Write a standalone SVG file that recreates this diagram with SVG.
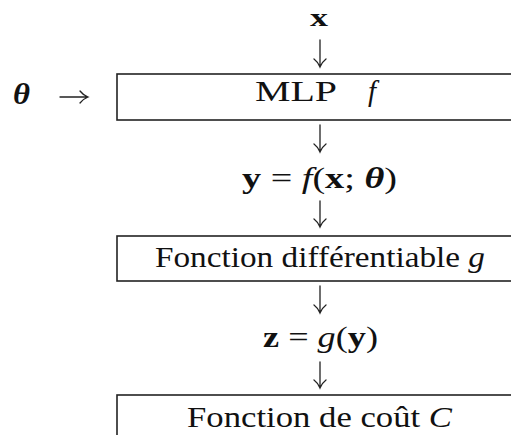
<svg xmlns="http://www.w3.org/2000/svg" width="511" height="435" viewBox="0 0 511 435">
<style>
text{font-family:"Liberation Serif","Times New Roman",serif;font-size:29px;fill:#111}
.m{font-size:30px}
.b{font-weight:bold}
.i{font-style:italic}
.box{fill:#fff;stroke:#222;stroke-width:1.6}
.c{fill:none;stroke:#222;stroke-width:1.3;stroke-linecap:round}
</style>
<rect width="511" height="435" fill="#fff"/>
<g id="connectors">
<path class="c" d="M320 40V67M314 59Q318 62 320 67Q322 62 326 59"/>
<path class="c" d="M320 125V152M314 144Q318 147 320 152Q322 147 326 144"/>
<path class="c" d="M320 201V227M314 219Q318 222 320 227Q322 222 326 219"/>
<path class="c" d="M320 286V313M314 305Q318 308 320 313Q322 308 326 305"/>
<path class="c" d="M320 362V388M314 380Q318 383 320 388Q322 383 326 380"/>
<path class="c" d="M60 97H88M80 91Q83 95 88 97Q83 99 80 103"/>
</g>
<g id="n-x"><text x="310" y="26" class="b" style="font-size:26px" textLength="18" lengthAdjust="spacingAndGlyphs">x</text></g>
<g id="n-theta"><text x="13" y="104" class="b i m" textLength="17" lengthAdjust="spacingAndGlyphs">θ</text></g>
<g id="n-mlp"><rect class="box" x="117" y="74" width="400" height="46"/><text x="255" y="101" textLength="82" lengthAdjust="spacingAndGlyphs">MLP</text><text x="368" y="101" class="i">f</text></g>
<g id="n-y"><text x="242" y="188" class="m" textLength="155" lengthAdjust="spacingAndGlyphs"><tspan class="b">y</tspan> = <tspan class="i">f</tspan>(<tspan class="b">x</tspan>; <tspan class="b i">θ</tspan>)</text></g>
<g id="n-g"><rect class="box" x="117" y="236" width="400" height="45"/><text x="155" y="267" textLength="330" lengthAdjust="spacingAndGlyphs">Fonction différentiable <tspan class="i">g</tspan></text></g>
<g id="n-z"><text x="263" y="347" class="m" textLength="115" lengthAdjust="spacingAndGlyphs"><tspan class="b">z</tspan> = <tspan class="i">g</tspan>(<tspan class="b">y</tspan>)</text></g>
<g id="n-c"><rect class="box" x="117" y="395" width="400" height="50"/><text x="187" y="427" textLength="265" lengthAdjust="spacingAndGlyphs">Fonction de coût <tspan class="i">C</tspan></text></g>
</svg>
